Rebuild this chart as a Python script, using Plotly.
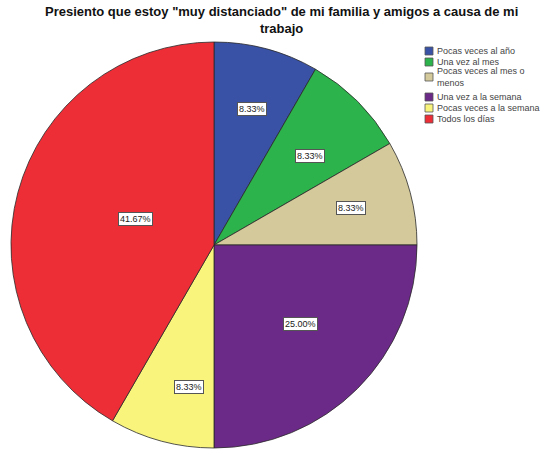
import math
import plotly.graph_objects as go

categories = ["Pocas veces al año", "Una vez al mes", "Pocas veces al mes o<br>menos",
              "Una vez a la semana", "Pocas veces a la semana", "Todos los días"]
values = [1, 1, 1, 3, 1, 5]
colors = ["#3a52a6", "#2db34b", "#d3c99b", "#6c2a88", "#f9f57c", "#ee2e36"]
label_r = [0.73, 0.67, 0.70, 0.60, 0.76, 0.49]
legend_y = [51, 62, 77, 97, 108, 119]
title_text = "Presiento que estoy \"muy distanciado\" de mi familia y amigos a causa de mi<br>trabajo"

W, H = 550, 449
dom_x = [11 / W, 417 / W]
dom_y = [1 / H, 407 / H]

fig = go.Figure(go.Pie(
    labels=categories, values=values, sort=False, direction="clockwise", rotation=0,
    marker=dict(colors=colors, line=dict(color="#2a2a2a", width=0.8)),
    textinfo="none", hoverinfo="label+percent",
    domain=dict(x=dom_x, y=dom_y), showlegend=False,
))

total = sum(values)
cx = (dom_x[0] + dom_x[1]) / 2 * W
cy = (dom_y[0] + dom_y[1]) / 2 * H
R = (dom_x[1] - dom_x[0]) * W / 2
cum = 0
for v, rf in zip(values, label_r):
    mid = (cum + v / 2) / total * 2 * math.pi
    cum += v
    px = cx + rf * R * math.sin(mid)
    py = cy + rf * R * math.cos(mid)
    fig.add_annotation(x=px / W, y=py / H, xref="paper", yref="paper",
                       text=f"{v / total * 100:.2f}%", showarrow=False,
                       font=dict(size=9, family="Liberation Sans", color="#222"),
                       bgcolor="white", bordercolor="#555", borderwidth=1, borderpad=1)

# legend (custom, compact)
for name, col, ly in zip(categories, colors, legend_y):
    fig.add_shape(type="rect", xref="paper", yref="paper",
                  x0=425 / W, x1=433 / W, y0=1 - (ly - 4) / H, y1=1 - (ly + 4) / H,
                  fillcolor=col, line=dict(color="#555", width=0.8))
    fig.add_annotation(x=435 / W, y=1 - ly / H, xref="paper", yref="paper",
                       xanchor="left", yanchor="middle", align="left",
                       text=name, showarrow=False,
                       font=dict(size=9, family="Liberation Sans", color="#444"))

# title
fig.add_annotation(x=281 / W, y=1 - 20.5 / H, xref="paper", yref="paper",
                   xanchor="center", yanchor="middle", align="center", showarrow=False,
                   text=f"<b>{title_text}</b>",
                   font=dict(family="Liberation Sans", size=13, color="#111"))

fig.update_layout(
    width=W, height=H,
    margin=dict(l=0, r=0, t=0, b=0, autoexpand=False),
    paper_bgcolor="white", plot_bgcolor="white",
    showlegend=False,
)

fig.write_html("out.html", config={"displayModeBar": False},
               post_script="document.body.style.margin='0';")
